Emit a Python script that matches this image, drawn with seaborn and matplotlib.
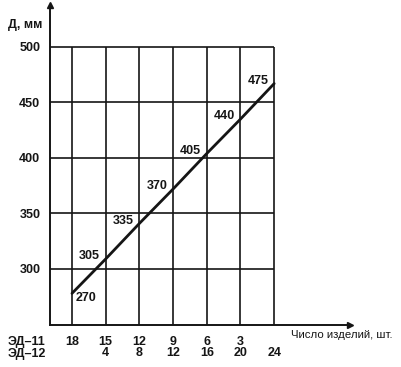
import seaborn as sns
import matplotlib.pyplot as plt
import numpy as np
import pandas as pd

# data
ed12 = [0, 4, 8, 12, 16, 20, 24]          # ЭД-12, шт.
ed11 = [18, 15, 12, 9, 6, 3, 0]           # ЭД-11, шт.
d_labels = [270, 305, 335, 370, 405, 440, 475]
line_mm = [278, 309, 341, 372, 404, 435, 467]
y_ticks = [300, 350, 400, 450, 500]

sns.set_style("white")
plt.rcParams['font.family'] = ['Liberation Sans', 'DejaVu Sans']
plt.rcParams['font.weight'] = 'bold'

df = pd.DataFrame({'n': ed12, 'd': line_mm})

fig = plt.figure(figsize=(4.01, 3.67), dpi=100)
ax = fig.add_axes([50/401, 42/367, 300/401, 320/367])
ax.set_xlim(-2.61, 33.0)
ax.set_ylim(249.5, 537.8)

ink = '#151515'
fs = 9
# grid
ax.hlines(y_ticks, -2.61, ed12[-1], color=ink, lw=1.2)
ax.vlines(ed12, 249.5, y_ticks[-1], color=ink, lw=1.2)

sns.lineplot(data=df, x='n', y='d', color=ink, lw=2.0, ax=ax)

for i, (x, y, lab) in enumerate(zip(ed12, line_mm, d_labels)):
    if i == 0:
        ax.annotate(str(lab), (x, y), xytext=(2.5, -3), textcoords='offset points',
                    ha='left', va='center', fontsize=fs, color=ink)
    else:
        ax.annotate(str(lab), (x, y), xytext=(-4, 2), textcoords='offset points',
                    ha='right', va='center', fontsize=fs, color=ink)

# axes with arrows
for s in ['top', 'right']:
    ax.spines[s].set_visible(False)
for s in ['left', 'bottom']:
    ax.spines[s].set_color(ink)
    ax.spines[s].set_linewidth(1.4)
ax.plot([0], [1], marker='^', ms=5, color=ink, transform=ax.transAxes, clip_on=False)
ax.plot([1], [0], marker='>', ms=5, color=ink, transform=ax.transAxes, clip_on=False)

ax.set_yticks(y_ticks)
ax.set_yticklabels([str(v) for v in y_ticks], fontsize=fs, color=ink)
ax.tick_params(axis='y', length=0, pad=7)
ax.set_xticks([])
ax.set_xlabel('')
ax.set_ylabel('')

trans = ax.get_xaxis_transform()
for x, a, b in zip(ed12, ed11, ed12):
    if a != 0:
        ax.text(x, -0.053, str(a), transform=trans, ha='center', va='center', fontsize=fs, color=ink)
    if b != 0:
        ax.text(x, -0.089, str(b), transform=trans, ha='center', va='center', fontsize=fs, color=ink)

fig.text(8/401, 1 - 342/367, 'ЭД–11', ha='left', va='center', fontsize=fs, color=ink)
fig.text(8/401, 1 - 354/367, 'ЭД–12', ha='left', va='center', fontsize=fs, color=ink)
fig.text(291/401, 1 - 335/367, 'Число изделий, шт.', ha='left', va='center', fontsize=8.2,
         color=ink, fontweight='normal')
fig.text(8/401, 1 - 25/367, 'Д, мм', ha='left', va='center', fontsize=fs, color=ink)

fig.savefig('out.png', dpi=100)
